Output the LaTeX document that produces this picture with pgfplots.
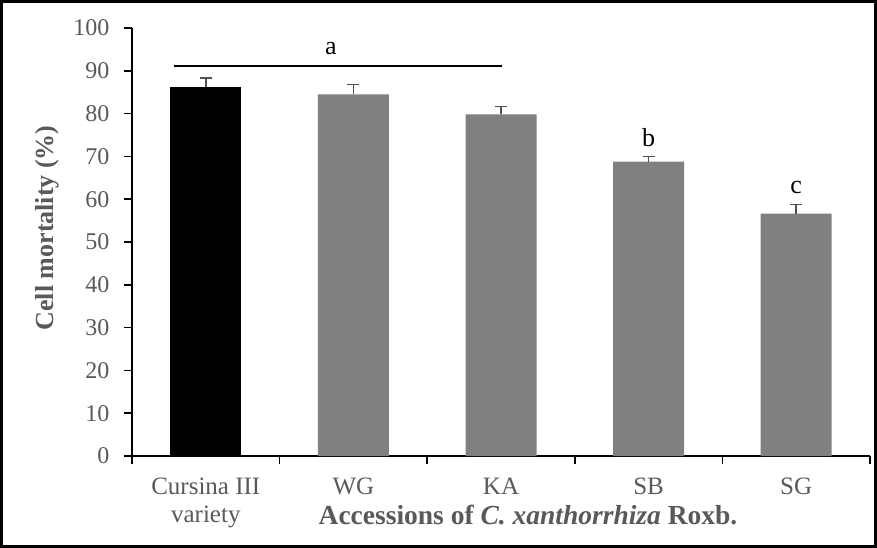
\documentclass[border=0pt]{standalone}
\usepackage{pgfplots}
\pgfplotsset{compat=1.18}
\usepackage{fontspec}
\setmainfont{Liberation Serif}
\definecolor{tickgray}{RGB}{89,89,89}
\definecolor{bargray}{RGB}{128,128,128}
\definecolor{errgray}{RGB}{80,80,80}
\begin{document}
\begin{tikzpicture}
\begin{axis}[
  name=ax, at={(0,0)}, anchor=south west,
  scale only axis, width=738pt, height=428pt,
  xmin=-0.5, xmax=4.5, ymin=0, ymax=100,
  axis x line*=bottom, axis y line*=left,
  axis line style={line width=1.6pt, black},
  ytick={0,10,...,100},
  xtick={-0.5,0.5,...,4.5}, xticklabels={},
  extra x ticks={0,1,2,3,4},
  extra x tick labels={{Cursina III\\variety},WG,KA,SB,SG},
  extra x tick style={major tick length=0pt},
  tick align=outside, major tick length=8pt,
  tick style={line width=1.6pt, black},
  /pgf/number format/assume math mode=true,
  yticklabel style={font=\fontsize{24}{28}\selectfont, text=tickgray, xshift=-11pt},
  xticklabel style={font=\fontsize{25}{28}\selectfont, text=tickgray, align=center, anchor=north, inner sep=0pt, yshift=-22pt},
  xlabel={Accessions of \textit{C. xanthorrhiza} Roxb.},
  ylabel={Cell mortality (\%)},
  every axis x label/.style={at={(axis description cs:0.5366,-0.1612)}, anchor=base, font=\fontsize{27.5}{30}\selectfont\bfseries, text=tickgray},
  every axis y label/.style={at={(axis description cs:-0.1152,0.533)}, anchor=center, rotate=90, font=\fontsize{26}{30}\selectfont\bfseries, text=tickgray},
  clip=false,
]
\addplot[ybar, bar width=71pt, bar shift=0pt, fill=black, draw=none,
  error bars/.cd, y dir=plus, y explicit,
  error bar style={line width=1.6pt, errgray},
  error mark options={rotate=90, mark size=6pt, line width=1.6pt, errgray}]
  coordinates {(0,86.3) +- (0,2.0)};
\addplot[ybar, bar width=71pt, bar shift=0pt, fill=bargray, draw=none,
  error bars/.cd, y dir=plus, y explicit,
  error bar style={line width=1.6pt, errgray},
  error mark options={rotate=90, mark size=6pt, line width=1.6pt, errgray}]
  coordinates {(1,84.5) +- (0,2.3) (2,79.8) +- (0,1.9) (3,68.8) +- (0,1.2) (4,56.6) +- (0,2.2)};
\addplot[black, line width=1.3pt, no markers] coordinates {(-0.215,91.1) (2.01,91.1)};
\node[font=\fontsize{26}{28}\selectfont, anchor=base, inner sep=0pt] at (axis cs:0.848,93.7) {a};
\node[font=\fontsize{26}{28}\selectfont, anchor=base, inner sep=0pt] at (axis cs:3,72.2) {b};
\node[font=\fontsize{26}{28}\selectfont, anchor=base, inner sep=0pt] at (axis cs:4,61.4) {c};
\end{axis}
\path (-132pt,-92pt) rectangle (745pt,456pt);
\draw[line width=3pt] (-130.5pt,-90.5pt) rectangle (743.5pt,454.5pt);
\end{tikzpicture}
\end{document}
